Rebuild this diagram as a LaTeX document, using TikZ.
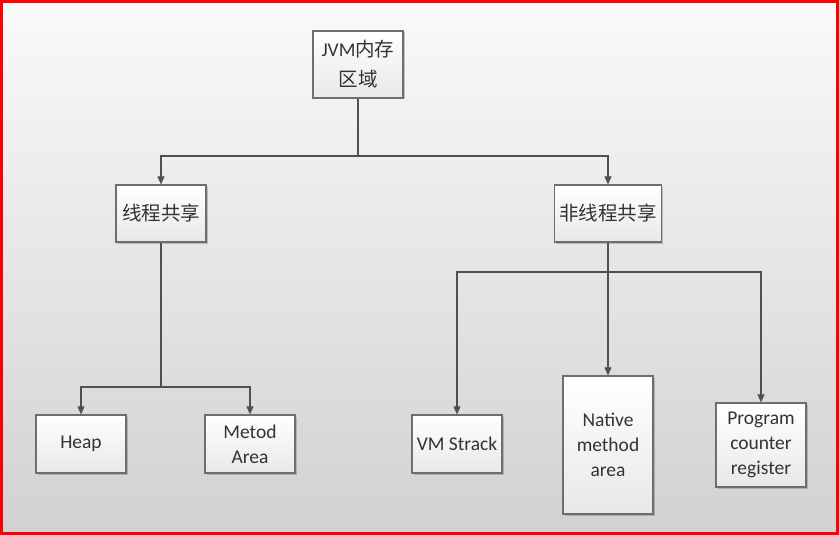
\documentclass[tikz,border=0pt]{standalone}
\usepackage{fontspec}
\setmainfont{Carlito}
\newfontfamily\cjk{Noto Sans CJK SC}
\usetikzlibrary{arrows.meta,shadows}
\definecolor{boxline}{HTML}{6E6E6E}
\definecolor{connline}{HTML}{505050}
\definecolor{txt}{HTML}{333333}
\tikzset{
  box/.style={draw=boxline, line width=1.2pt, top color=white, bottom color=black!9,
    text=txt, align=center, inner sep=0pt,
    font=\fontsize{19.5}{25}\selectfont,
    drop shadow={shadow xshift=1.5pt, shadow yshift=-1.5pt, opacity=0.35, fill=black!60}},
  conn/.style={draw=connline, line width=1.1pt},
  arr/.style={conn, -{Triangle[length=8pt,width=7pt]}}
}
\begin{document}
\begin{tikzpicture}[x=1pt,y=-1pt]
\useasboundingbox (0,0) rectangle (839,535);
\shade[top color=black!2, bottom color=black!18] (0,0) rectangle (839,535);
\draw[red, line width=3pt] (1.5,1.5) rectangle (837.5,533.5);

\node[box, minimum width=90pt, minimum height=67pt, font=\fontsize{19.5}{30}\selectfont] (jvm) at (358,64.5) {JVM{\cjk 内存}\\{\cjk 区域}};
\node[box, minimum width=90pt, minimum height=57pt] (shared) at (161,213.5) {\cjk 线程共享};
\node[box, minimum width=107pt, minimum height=57pt] (nonshared) at (608,213.5) {\cjk 非线程共享};
\node[box, minimum width=90pt, minimum height=58pt] (heap) at (81,444) {Heap};
\node[box, minimum width=90pt, minimum height=58pt] (metod) at (250,444) {Metod\\Area};
\node[box, minimum width=90pt, minimum height=58pt] (vm) at (457,444) {VM Strack};
\node[box, minimum width=90pt, minimum height=138pt] (native) at (608,445) {Native\\method\\area};
\node[box, minimum width=90pt, minimum height=84pt] (pc) at (761,445) {Program\\counter\\register};

\coordinate (j1) at (358,156);
\coordinate (j2) at (161,387);
\coordinate (j3) at (608,272);

\draw[conn] (jvm.south) -- (j1);
\draw[arr] (j1) -| (shared.north);
\draw[arr] (j1) -| (nonshared.north);

\draw[conn] (shared.south) -- (j2);
\draw[arr] (j2) -| (heap.north);
\draw[arr] (j2) -| (metod.north);

\draw[conn] (nonshared.south) -- (j3);
\draw[arr] (j3) -| (vm.north);
\draw[arr] (j3) -- (native.north);
\draw[arr] (j3) -| (pc.north);
\end{tikzpicture}
\end{document}
